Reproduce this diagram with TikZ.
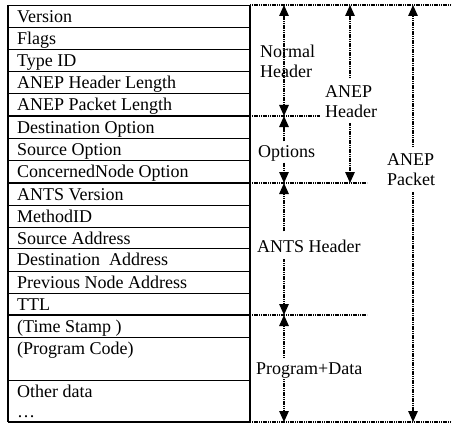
\documentclass[tikz,border=0pt]{standalone}
\usepackage{fontspec}
\setmainfont{Liberation Serif}
\usetikzlibrary{arrows.meta}
\begin{document}
\begin{tikzpicture}[x=1pt, y=-1pt,
  font=\fontsize{18}{20}\selectfont,
  rowbox/.style={draw, line width=0.9pt, anchor=north west, minimum width=242pt,
    inner sep=0pt, outer sep=0pt},
  celltext/.style={anchor=base west, inner sep=0pt},
  lab/.style={align=left, anchor=north west, inner sep=0pt},
  split/.style={line width=1.8pt},
  guide/.style={line width=1.4pt, dash pattern=on 1.2pt off 0.6pt},
  dim/.style={guide, -{Triangle[length=11pt, width=9.5pt]}},
  dimboth/.style={guide, {Triangle[length=11pt, width=9.5pt]}-{Triangle[length=11pt, width=9.5pt]}}]

\path[use as bounding box] (0,0) rectangle (452,425);

% packet fields, top to bottom: number / top / bottom / text
\foreach \n/\t/\b/\txt in {
  1/5/27/{Version},
  2/27/49/{Flags},
  3/49/71/{Type ID},
  4/71/93/{ANEP Header Length},
  5/93/116/{ANEP Packet Length},
  6/116/138/{Destination Option},
  7/138/160/{Source Option},
  8/160/183/{ConcernedNode Option},
  9/183/205/{ANTS Version},
  10/205/227/{MethodID},
  11/227/248/{Source Address},
  12/248/271/{Destination\ \ Address},
  13/271/293/{Previous Node Address},
  14/293/315/{TTL},
  15/315/337/{(Time Stamp )},
  16/337/380/{(Program Code)}} {
  \node[rowbox, minimum height={\b pt-\t pt}] (r\n) at (8,\t) {};
  \node[celltext] (t\n) at (17,{\t+17.5}) {\txt};
}
\node[rowbox, minimum height=42pt] (r17) at (8,380) {};
\node[lab] (t17) at (17,385.2) {Other data\\\ldots};

% heavier rules between the field groups
\draw[split] (r6.north west) -- (r6.north east);
\draw[split] (r9.north west) -- (r9.north east);
\draw[split] (r15.north west) -- (r15.north east);
\draw[split] (r17.south west) -- (r17.south east);
\draw[split] (r1.north east) -- (r17.south east);
\draw[line width=1.3pt] (r1.north west) -- (r17.south west);

% dotted extension lines marking the section boundaries
\coordinate (g0) at (452,5);
\coordinate (g1) at (320,116);
\coordinate (g2) at (367,183);
\coordinate (g3) at (367,315);
\coordinate (g4) at (452,422);
\draw[guide] (r1.north east) -- (g0);
\draw[guide] (r6.north east) -- (g1);
\draw[guide] (r9.north east) -- (g2);
\draw[guide] (r15.north east) -- (g3);
\draw[guide] (r17.south east) -- (g4);

% arrow end points
\coordinate (nT) at (284,5);
\coordinate (nB) at (284,116);
\coordinate (oB) at (284,183);
\coordinate (sB) at (284,315);
\coordinate (pB) at (284,422);
\coordinate (hT) at (350,5);
\coordinate (hB) at (350,183);
\coordinate (kT) at (413,5);
\coordinate (kB) at (413,422);

% section labels
\node[lab] (nh) at (260,44.7) {Normal\\Header};
\node[lab] (ah) at (325,85) {ANEP\\Header};
\node[lab] (ap) at (387,153) {ANEP\\Packet};
\node[celltext] (opt) at (258,157.5) {Options};
\node[celltext] (ants) at (257,252) {ANTS Header};
\node[celltext] (pd) at (256,374) {Program+Data};

% dimension arrows
\draw[dimboth] (nT) -- (nB);
\draw[dim, shorten <=4pt] (opt.north -| nB) -- (nB);
\draw[dim, shorten <=1pt] (opt.south -| nB) -- (oB);
\draw[dim, shorten <=8pt] (ants.north -| oB) -- (oB);
\draw[dim, shorten <=7pt] (ants.south -| oB) -- (sB);
\draw[dim, shorten <=4pt] (pd.north -| sB) -- (sB);
\draw[dim, shorten <=1pt] (pd.south -| sB) -- (pB);
\draw[dim, shorten <=7pt] (ah.north -| hT) -- (hT);
\draw[dim, shorten <=6pt] (ah.south -| hT) -- (hB);
\draw[dim, shorten <=6pt] (ap.north -| kT) -- (kT);
\draw[dim, shorten <=7pt] (ap.south -| kT) -- (kB);
\end{tikzpicture}
\end{document}
